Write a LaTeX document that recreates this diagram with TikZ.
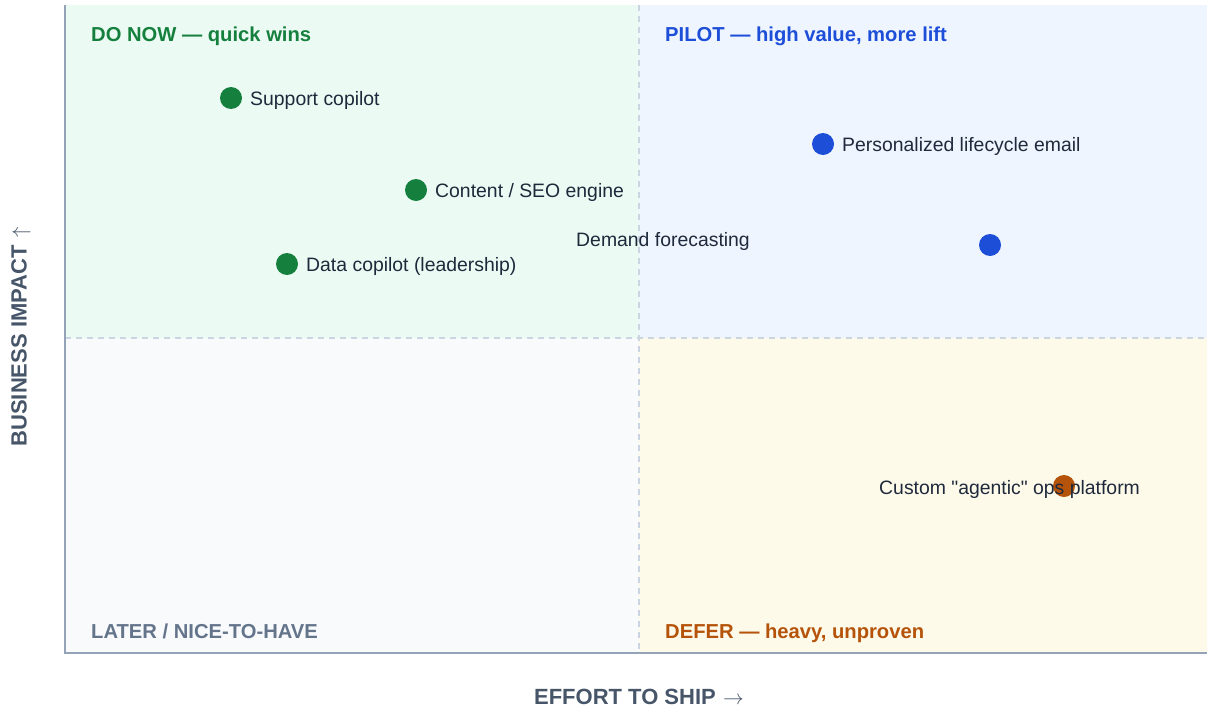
\documentclass[tikz,border=0pt]{standalone}
\usepackage{fontspec}
\setmainfont{Liberation Sans}[Ligatures=TeXOff]
\begin{document}
\begin{tikzpicture}[x=1pt,y=-1pt,
  quadtitle/.style={anchor=base west,inner sep=0pt,font=\fontsize{20.2}{24}\selectfont\bfseries},
  itemlabel/.style={anchor=base west,inner sep=0pt,text=ink,font=\fontsize{19.4}{23}\selectfont},
  axislabel/.style={inner sep=0pt,text=axistext,font=\fontsize{22}{26}\selectfont\bfseries},
  dot/.style={circle,inner sep=0pt,minimum size=22pt},
  divider/.style={draw=divline,line width=1.5pt,dash pattern=on 6pt off 5pt},
  axisline/.style={draw=axisgrey,line width=2pt}]
\definecolor{qtl}{HTML}{EBFBF3}
\definecolor{qtr}{HTML}{EFF5FF}
\definecolor{qbl}{HTML}{F8FAFC}
\definecolor{qbr}{HTML}{FEFAEA}
\definecolor{cgreen}{HTML}{15803D}
\definecolor{cblue}{HTML}{1D4ED8}
\definecolor{corange}{HTML}{B45309}
\definecolor{cslate}{HTML}{64748B}
\definecolor{ink}{HTML}{1E293B}
\definecolor{axistext}{HTML}{475569}
\definecolor{divline}{HTML}{CBD5E1}
\definecolor{axisgrey}{HTML}{94A3B8}
\useasboundingbox (0,0) rectangle (1207,709);
\fill[white] (0,0) rectangle (1207,709);
% quadrant backgrounds
\fill[qtl] (65,5) rectangle (639,338);
\fill[qtr] (639,5) rectangle (1207,338);
\fill[qbl] (65,338) rectangle (639,653);
\fill[qbr] (639,338) rectangle (1207,653);
% dashed dividers
\draw[divider] (639,5) -- (639,653);
\draw[divider] (65,338) -- (1207,338);
% axes
\draw[axisline] (65,5) -- (65,653) -- (1207,653);
% quadrant titles
\node[quadtitle,text=cgreen] (tdo) at (91,41.7) {DO NOW — quick wins};
\node[quadtitle,text=cblue] (tpilot) at (665,41.7) {PILOT — high value, more lift};
\node[quadtitle,text=cslate] (tlater) at (91,638) {LATER / NICE-TO-HAVE};
\node[quadtitle,text=corange] (tdefer) at (665,638) {DEFER — heavy, unproven};
% initiatives
\node[dot,fill=cgreen] (d1) at (231,98) {};
\node[itemlabel] (l1) at (250,105) {Support copilot};
\node[dot,fill=cgreen] (d2) at (416,190) {};
\node[itemlabel] (l2) at (435,197) {Content / SEO engine};
\node[dot,fill=cgreen] (d3) at (287,264) {};
\node[itemlabel] (l3) at (306,271) {Data copilot (leadership)};
\node[dot,fill=cblue] (d4) at (823,144) {};
\node[itemlabel] (l4) at (842,151) {Personalized lifecycle email};
\node[dot,fill=cblue] (d5) at (990,245) {};
\node[itemlabel] (l5) at (576,246) {Demand forecasting};
\node[dot,fill=corange] (d6) at (1064,486) {};
\node[itemlabel] (l6) at (879,494) {Custom "agentic" ops platform};
% axis titles
\node[axislabel] (xlab) at (639,697) {EFFORT TO SHIP\,\,$\rightarrow$};
\node[axislabel,rotate=90] (ylab) at (21,337) {BUSINESS IMPACT\,\,$\uparrow$};
\end{tikzpicture}
\end{document}
